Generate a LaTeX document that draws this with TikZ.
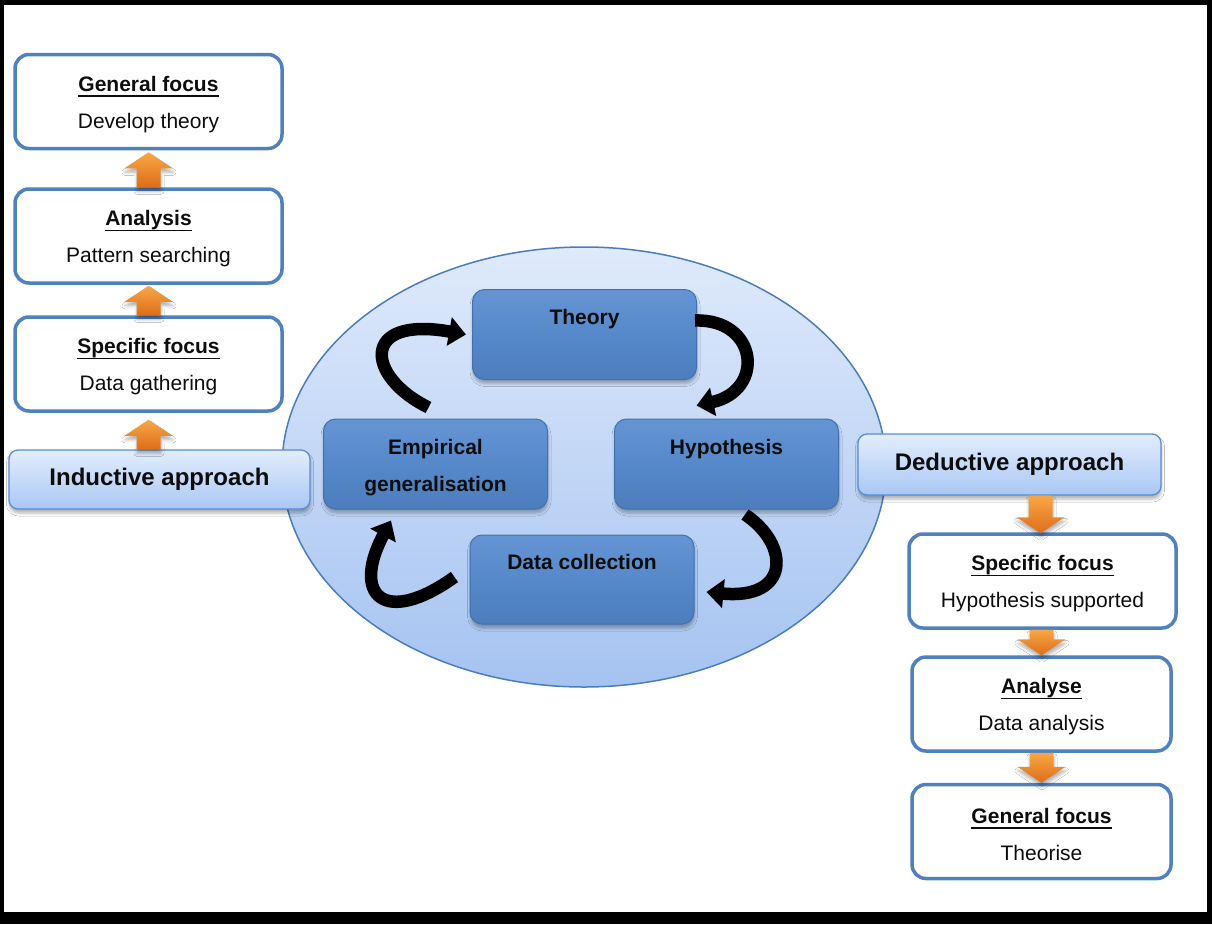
\documentclass[tikz,border=0pt]{standalone}
\usepackage{fontspec}
\setmainfont{Liberation Sans}
\usetikzlibrary{shapes.geometric,arrows.meta,calc,shadows.blur}

% bold heading with a heavy underline (the strut lowers the text block a little)
\newsavebox\hlbox
\newcommand\headline[1]{\rule{0pt}{21pt}\sbox\hlbox{\textbf{#1}}\rlap{\rule[-5.5pt]{\wd\hlbox}{1.8pt}}\usebox\hlbox}

\definecolor{focusLine}{HTML}{4F81BD}
\definecolor{ellTop}{HTML}{DFEAFB}
\definecolor{ellBot}{HTML}{A5C3F1}
\definecolor{ellLine}{HTML}{4A7DBA}
\definecolor{apTop}{HTML}{E3EDFC}
\definecolor{apBot}{HTML}{A9C7F4}
\definecolor{apLine}{HTML}{5A8CD2}
\definecolor{stTop}{HTML}{6594D3}
\definecolor{stMid}{HTML}{5689CA}
\definecolor{stBot}{HTML}{4C7DBD}
\definecolor{stLine}{HTML}{4272AE}
\definecolor{orTop}{HTML}{F8A745}
\definecolor{orBot}{HTML}{DE6D1A}
\definecolor{txt}{HTML}{0D0D0D}

\tikzset{
  softshadow/.style={blur shadow={shadow xshift=0.5pt, shadow yshift=-4pt,
      shadow blur radius=3pt, shadow opacity=30}},
  focusbox/.style={draw=focusLine, line width=3.5pt, rounded corners=14pt,
      fill=white, minimum width=267pt, minimum height=94pt, align=center,
      inner sep=0pt, text=txt, font=\fontsize{21}{25}\selectfont},
  approachbox/.style={draw=apLine, line width=1.3pt, rounded corners=9pt,
      top color=apTop, bottom color=apBot, softshadow, text=txt,
      inner sep=0pt, font=\fontsize{24}{28}\selectfont\bfseries},
  stagebox/.style={draw=stLine, line width=1pt, rounded corners=12pt,
      top color=stTop, bottom color=stBot, middle color=stMid,
      minimum width=224pt, minimum height=90pt, inner sep=0pt,
      softshadow, align=center, text=txt,
      font=\fontsize{21}{25}\selectfont\bfseries},
  stagetitle/.style={text=txt, font=\fontsize{21}{25}\selectfont\bfseries},
  cyclearrow/.style={line width=12.5pt, black,
      -{Triangle[length=17pt,width=28pt]}},
  blockfill/.style={top color=orTop, bottom color=orBot, softshadow}
}

% orange block arrow from tail point #1 to tip point #2
\newcommand\blockarrow[2]{%
  \coordinate (ba-t) at (#1);
  \coordinate (ba-h) at (#2);
  \coordinate (ba-n) at ($(ba-h)!16pt!(ba-t)$);
  \path[blockfill] ($(ba-t)!12pt!90:(ba-h)$) -- ($(ba-n)!12pt!-90:(ba-t)$)
    -- ($(ba-n)!24pt!-90:(ba-t)$) -- (ba-h) -- ($(ba-n)!24pt!90:(ba-t)$)
    -- ($(ba-n)!12pt!90:(ba-t)$) -- ($(ba-t)!12pt!-90:(ba-h)$) -- cycle;}

\begin{document}
\begin{tikzpicture}[x=1pt,y=-1pt]
\useasboundingbox (0,0) rectangle (1212,924);
% frame
\fill[black] (0,0) rectangle (1212,924);
\fill[white] (4,5) rectangle (1207,912);

% research cycle
\node[ellipse, draw=ellLine, line width=1.5pt, top color=ellTop,
      bottom color=ellBot, minimum width=604pt, minimum height=440pt,
      inner sep=0pt] (cyc) at (584,467) {};

\node[stagebox] (theory) at (584.5,334.5) {};
\node[stagebox] (hyp) at (726.5,464) {};
\node[stagebox] (emp) at (435.5,464) {\rule{0pt}{23pt}Empirical\\[12pt]generalisation};
\node[stagebox, minimum height=89pt] (dc) at (582,579.5) {};

\draw[cyclearrow] ($(emp.north)+(-7,-11)$) .. controls +(-63,-31) and +(-106,-19) .. ($(theory.west)+(-6,0)$);
\draw[cyclearrow] ($(theory.east)+(-2,-14)$) .. controls +(63,-2) and +(69,-15) .. ($(hyp.north)+(-30,-13)$);
\draw[cyclearrow] ($(hyp.south)+(18.5,5)$) .. controls +(45,30) and +(84,8) .. ($(dc.east)+(12,12.5)$);
\draw[cyclearrow] ($(dc.west)+(-15,-2.5)$) .. controls +(-70,50) and +(-40,75) .. ($(emp.south)+(-44.5,11)$);

\node[stagetitle] at ($(theory.north)+(0,30)$) {Theory};
\node[stagetitle] at ($(hyp.north)+(0,31)$) {Hypothesis};
\node[stagetitle] at ($(dc.north)+(0,27)$) {Data collection};

% inductive side
\node[focusbox] (gf1) at (148.5,101.5) {\headline{General focus}\\[12pt]Develop theory};
\node[focusbox] (an1) at (148.5,236) {\headline{Analysis}\\[12pt]Pattern searching};
\node[focusbox] (sf1) at (148.5,364) {\headline{Specific focus}\\[12pt]Data gathering};
\node[approachbox, minimum width=301pt, minimum height=59pt] (ind) at (159.5,479.5) {Inductive approach};

\blockarrow{an1.north}{$(gf1.south)+(0,2)$}
\blockarrow{sf1.north}{$(an1.south)+(0,1)$}
\blockarrow{sf1.south |- ind.north}{$(sf1.south)+(0,7)$}

% deductive side
\node[approachbox, minimum width=303pt, minimum height=61pt] (ded) at (1009.5,464.5) {Deductive approach};
\node[focusbox] (sf2) at (1042.5,581) {\headline{Specific focus}\\[12pt]Hypothesis supported};
\node[focusbox, minimum width=259pt] (an2) at (1041.5,704) {\headline{Analyse}\\[12pt]Data analysis};
\node[focusbox, minimum width=259pt] (gf2) at (1041.5,831.5) {\headline{General focus}\\[12pt]Theorise};

\blockarrow{$(sf2.north |- ded.south)+(-2,0)$}{$(sf2.north)+(-2,1)$}
\blockarrow{an2.north |- sf2.south}{an2.north}
\blockarrow{gf2.north |- an2.south}{gf2.north}
\end{tikzpicture}
\end{document}
